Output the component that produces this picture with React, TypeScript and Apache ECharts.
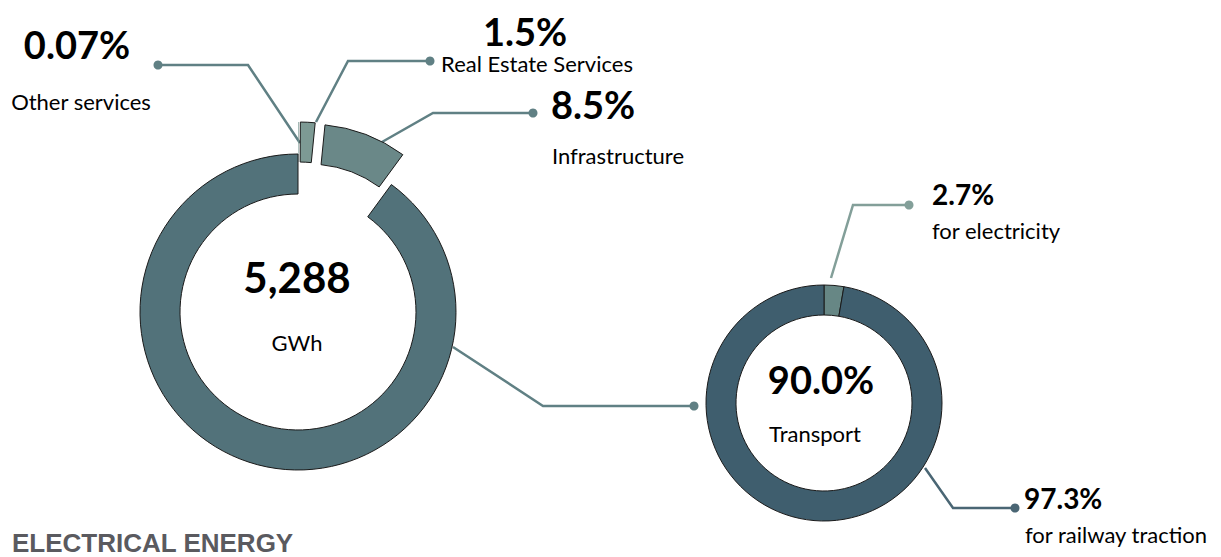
import React, { useEffect, useRef } from 'react';
import * as echarts from 'echarts';

// ---- data ----
const bigCategories = ['Other services', 'Real Estate Services', 'Infrastructure', 'Transport'];
const bigValues = [0.07, 1.5, 8.5, 90.0];
const bigColors = ['#7D9A94', '#7D9A94', '#6A8888', '#52727A'];
const bigExploded = [true, true, true, false];
const totalValue = 5288;
const totalUnit = 'GWh';
const subCategories = ['for electricity', 'for railway traction'];
const subValues = [2.7, 97.3];
const subColors = ['#678785', '#3F5E6E'];
const chartTitle = 'ELECTRICAL ENERGY';

const fmtPct = (v: number) => (v < 0.1 ? v.toFixed(2) : v.toFixed(1)) + '%';

const FONT = 'Lato, "Open Sans", sans-serif';
const LINE_BIG = '#608084';
const LINE_ELEC = '#839F99';
const LINE_RAIL = '#4A6674';
const REG = 22;

function callout(points: number[][], color: string, dot: number[]) {
  return [
    {
      type: 'polyline',
      shape: { points },
      style: { stroke: color, lineWidth: 2.5, fill: null },
      silent: true,
    },
    {
      type: 'circle',
      shape: { cx: dot[0], cy: dot[1], r: 4.5 },
      style: { fill: color },
      silent: true,
    },
  ];
}

function txt(text: string, x: number, y: number, size: number, bold: boolean, align: string) {
  return {
    type: 'text',
    x,
    y,
    silent: true,
    style: {
      text,
      fill: '#000',
      font: `${bold ? 'bold ' : ''}${size}px ${FONT}`,
      align,
      verticalAlign: 'middle',
    },
  };
}

export default function App() {
  const ref = useRef<HTMLDivElement>(null);

  useEffect(() => {
    document.body.style.margin = '0';
    const chart = echarts.init(ref.current!, undefined, { renderer: 'svg' });

    const graphic: any[] = [
      // Other services
      ...callout([[158, 65], [248, 65], [300, 143]], LINE_BIG, [158, 65]),
      // Real Estate
      ...callout([[430, 61], [348, 61], [316, 122]], LINE_BIG, [430, 61]),
      // Infrastructure
      ...callout([[533, 113], [433, 113], [382, 142]], LINE_BIG, [533, 113]),
      // Transport
      ...callout([[453, 347], [543, 406], [694, 406]], LINE_BIG, [694, 406]),
      // electricity
      ...callout([[909, 205], [853, 205], [831, 278]], LINE_ELEC, [909, 205]),
      // railway
      ...callout([[925, 468], [953, 508], [1015, 508]], LINE_RAIL, [1015, 508]),

      txt(fmtPct(bigValues[0]), 77, 44, 38, true, 'center'),
      txt(bigCategories[0], 81, 101, REG, false, 'center'),
      txt(fmtPct(bigValues[1]), 525, 31, 38, true, 'center'),
      txt(bigCategories[1], 537, 63, REG, false, 'center'),
      txt(fmtPct(bigValues[2]), 593, 104, 38, true, 'center'),
      txt(bigCategories[2], 618, 155, REG, false, 'center'),
      txt(totalValue.toLocaleString('en-US'), 297, 277, 42, true, 'center'),
      txt(totalUnit, 297, 342, REG, false, 'center'),

      txt(fmtPct(bigValues[3]), 821, 379, 38, true, 'center'),
      txt(bigCategories[3], 815, 433, REG, false, 'center'),
      txt(fmtPct(subValues[0]), 932, 194, 28, true, 'left'),
      txt(subCategories[0], 932, 230, REG, false, 'left'),
      txt(fmtPct(subValues[1]), 1024, 498, 28, true, 'left'),
      txt(subCategories[1], 1025, 534, REG, false, 'left'),
    ];

    chart.setOption({
      animation: false,
      backgroundColor: '#ffffff',
      title: {
        text: chartTitle,
        left: 12,
        top: 530,
        padding: 0,
        textStyle: {
          fontFamily: '"Liberation Sans", Arial, sans-serif',
          fontWeight: 'bold',
          fontSize: 26,
          lineHeight: 26,
          color: '#5A5A5F',
        },
      },
      series: [
        {
          type: 'pie',
          center: [298, 312],
          radius: [118, 158],
          startAngle: 90,
          clockwise: true,
          selectedMode: 'multiple',
          selectedOffset: 32,
          avoidLabelOverlap: false,
          label: { show: false },
          labelLine: { show: false },
          emphasis: { disabled: true },
          itemStyle: { borderColor: '#1a1a1a', borderWidth: 1 },
          data: bigCategories.map((name, i) => ({
            name,
            value: bigValues[i],
            selected: bigExploded[i],
            itemStyle: { color: bigColors[i], borderWidth: i === 0 ? 0 : 1 },
          })),
        },
        {
          type: 'pie',
          center: [824, 403],
          radius: [88, 118],
          startAngle: 90,
          clockwise: true,
          avoidLabelOverlap: false,
          label: { show: false },
          labelLine: { show: false },
          emphasis: { disabled: true },
          itemStyle: { borderColor: '#1a1a1a', borderWidth: 1 },
          data: subCategories.map((name, i) => ({
            name,
            value: subValues[i],
            itemStyle: { color: subColors[i] },
          })),
        },
      ],
      graphic,
    });

    return () => chart.dispose();
  }, []);

  return <div ref={ref} style={{ width: 1221, height: 557 }} />;
}
